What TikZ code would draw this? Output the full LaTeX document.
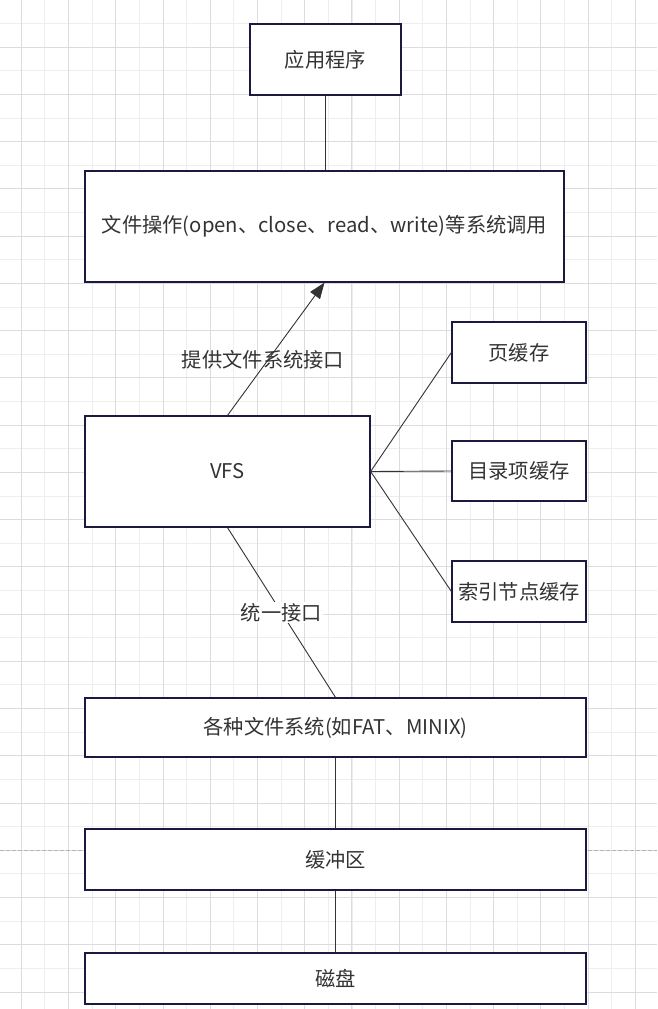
\documentclass[tikz,border=0pt]{standalone}
\usepackage{fontspec}
\setmainfont{Noto Sans CJK SC}
\usetikzlibrary{arrows.meta}
\newdimen\px \px=0.75pt
\definecolor{boxline}{HTML}{1A1A40}
\definecolor{txt}{HTML}{333333}
\definecolor{gridmin}{HTML}{EEEEEE}
\definecolor{gridmaj}{HTML}{DCDCDC}
\tikzset{
  box/.style={draw=boxline, fill=white, line width=1.2\px, text=txt, inner sep=0pt, font=\fontsize{15.2}{18}\selectfont},
  link/.style={draw=txt, line width=0.9\px},
  lbl/.style={text=txt, inner sep=1pt, font=\fontsize{15.2}{18}\selectfont},
}
\begin{document}
\begin{tikzpicture}[x=\px, y=-\px]
  \useasboundingbox (0,0) rectangle (657,1009);
  \fill[white] (0,0) rectangle (657,1009);

  %% сетка
  \foreach \i in {0,...,28} {
    \draw[gridmin, line width=1\px] (-2.3+23.62*\i, 0) -- (-2.3+23.62*\i, 1009);
  }
  \foreach \i in {0,...,43} {
    \draw[gridmin, line width=1\px] (0, 23.62*\i) -- (657, 23.62*\i);
  }
  \foreach \i in {0,...,13} {
    \draw[gridmaj, line width=1\px] (21.3+47.24*\i, 0) -- (21.3+47.24*\i, 1009);
  }
  \foreach \i in {0,...,21} {
    \draw[gridmaj, line width=1\px] (0, 47.24*\i) -- (657, 47.24*\i);
  }
  \draw[gray!60, line width=1\px, dash pattern=on 3pt off 1.5pt] (0, 850) -- (657, 850);

  \node[box, minimum width=151\px, minimum height=71\px] (app) at (325.5, 59.5) {应用程序};
  \node[box, minimum width=479\px, minimum height=111\px] (sys) at (324.5, 226.5) {文件操作(open、close、read、write)等系统调用};
  \node[box, minimum width=285\px, minimum height=111\px] (vfs) at (227.5, 471.5) {VFS};
  \node[box, minimum width=134\px, minimum height=61\px] (page) at (519, 352.5) {页缓存};
  \node[box, minimum width=134\px, minimum height=60\px] (dent) at (519, 471) {目录项缓存};
  \node[box, minimum width=134\px, minimum height=61\px] (inode) at (519, 591.5) {索引节点缓存};
  \node[box, minimum width=501\px, minimum height=59\px] (fs) at (335.5, 727.5) {各种文件系统(如FAT、MINIX)};
  \node[box, minimum width=501\px, minimum height=61\px] (buf) at (335.5, 859.5) {缓冲区};
  \node[box, minimum width=501\px, minimum height=51\px] (disk) at (335.5, 978.5) {磁盘};

  \draw[link] (app.south) -- (app.south |- sys.north);
  \draw[link, -{Triangle[length=12pt, width=9pt]}] (vfs.north) -- (sys.south);
  \node[lbl] (prov) at (263, 360) {提供文件系统接口};
  \draw[link] (vfs.south) -- node[lbl, fill=white] (uni) {统一接口} (fs.north);

  \draw[link] (vfs.east) -- (page.west);
  \draw[link] (vfs.east) -- (dent.west);
  \draw[link] (vfs.east) -- (inode.west);

  \draw[link] (fs.south) -- (buf.north);
  \draw[link] (buf.south) -- (disk.north);
\end{tikzpicture}
\end{document}
